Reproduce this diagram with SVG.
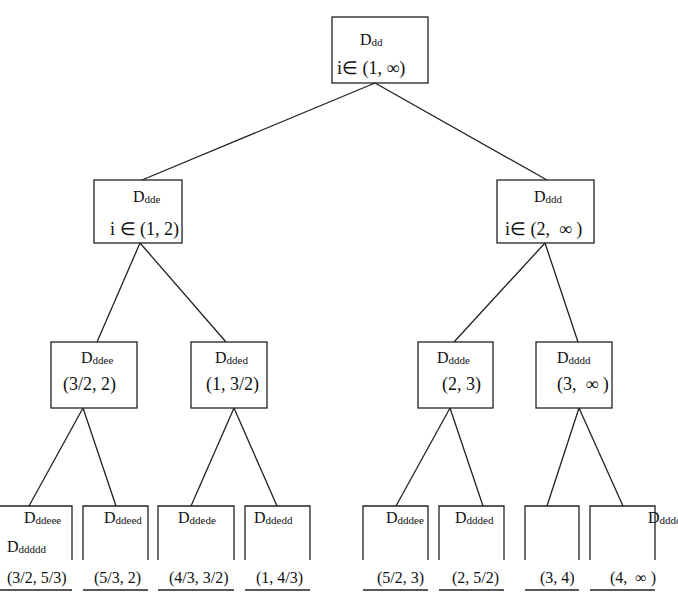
<svg xmlns="http://www.w3.org/2000/svg" width="678" height="600" viewBox="0 0 678 600">
<style>
text{font-family:"Liberation Serif","Times New Roman",serif;font-size:16px;fill:#111;white-space:pre}
.s{font-size:11px}
.m{font-size:18px}
.b{fill:none;stroke:#222;stroke-width:1.3}
.c line{stroke:#222;stroke-width:1.3}
</style>
<rect width="678" height="600" fill="#fff"/>
<g id="connectors" class="c">
<line x1="375" y1="83" x2="142" y2="180"/>
<line x1="375" y1="83" x2="547" y2="180"/>
<line x1="140" y1="243" x2="97" y2="342"/>
<line x1="140" y1="243" x2="226" y2="342"/>
<line x1="545" y1="243" x2="454" y2="342"/>
<line x1="545" y1="243" x2="578" y2="342"/>
<line x1="83" y1="408" x2="29" y2="506"/>
<line x1="83" y1="408" x2="116" y2="506"/>
<line x1="234" y1="408" x2="191" y2="506"/>
<line x1="234" y1="408" x2="277" y2="506"/>
<line x1="450" y1="408" x2="396" y2="506"/>
<line x1="450" y1="408" x2="483" y2="506"/>
<line x1="579" y1="408" x2="547" y2="506"/>
<line x1="579" y1="408" x2="623" y2="506"/>
</g>
<g id="n_dd">
<rect class="b" x="332" y="17" width="96" height="66"/>
<text x="360" y="45">D<tspan class="s" dy="1">dd</tspan></text>
<text class="m" x="337" y="74">i∈ (1, ∞)</text>
</g>
<g id="n_dde">
<rect class="b" x="94" y="180" width="88" height="63"/>
<text x="133" y="202">D<tspan class="s" dy="1">dde</tspan></text>
<text class="m" x="110" y="235">i ∈ (1, 2)</text>
</g>
<g id="n_ddd">
<rect class="b" x="497" y="180" width="97" height="63"/>
<text x="534" y="202">D<tspan class="s" dy="1">ddd</tspan></text>
<text class="m" x="505" y="235">i∈ (2,  ∞ )</text>
</g>
<g id="n_ddee">
<rect class="b" x="51" y="342" width="86" height="66"/>
<text x="81" y="363">D<tspan class="s" dy="1">ddee</tspan></text>
<text class="m" x="63" y="390">(3/2, 2)</text>
</g>
<g id="n_dded">
<rect class="b" x="191" y="342" width="76" height="66"/>
<text x="215" y="363">D<tspan class="s" dy="1">dded</tspan></text>
<text class="m" x="206" y="390">(1, 3/2)</text>
</g>
<g id="n_ddde">
<rect class="b" x="418" y="342" width="75" height="66"/>
<text x="437" y="363">D<tspan class="s" dy="1">ddde</tspan></text>
<text class="m" x="442" y="390">(2, 3)</text>
</g>
<g id="n_dddd">
<rect class="b" x="536" y="342" width="76" height="66"/>
<text x="557" y="363">D<tspan class="s" dy="1">dddd</tspan></text>
<text class="m" x="557" y="390">(3,  ∞ )</text>
</g>
<g id="n_ddeee">
<path class="b" d="M-2,506 H72 V560 M0,590 H72"/>
<text x="24" y="523">D<tspan class="s" dy="1">ddeee</tspan></text>
<text x="7" y="552">D<tspan class="s" dy="1">ddddd</tspan></text>
<text x="7" y="583">(3/2, 5/3)</text>
</g>
<g id="n_ddeed">
<path class="b" d="M83,560 V506 H148 V560 M83,590 H148"/>
<text x="104" y="523">D<tspan class="s" dy="1">ddeed</tspan></text>
<text x="94" y="583">(5/3, 2)</text>
</g>
<g id="n_ddede">
<path class="b" d="M158,560 V506 H234 V560 M158,590 H234"/>
<text x="178" y="523">D<tspan class="s" dy="1">ddede</tspan></text>
<text x="169" y="583">(4/3, 3/2)</text>
</g>
<g id="n_ddedd">
<path class="b" d="M245,560 V506 H310 V560 M245,590 H310"/>
<text x="254" y="523">D<tspan class="s" dy="1">ddedd</tspan></text>
<text x="256" y="583">(1, 4/3)</text>
</g>
<g id="n_dddee">
<path class="b" d="M363,560 V506 H428 V560 M363,590 H428"/>
<text x="386" y="523">D<tspan class="s" dy="1">dddee</tspan></text>
<text x="377" y="583">(5/2, 3)</text>
</g>
<g id="n_ddded">
<path class="b" d="M439,560 V506 H504 V560 M439,590 H504"/>
<text x="455" y="523">D<tspan class="s" dy="1">ddded</tspan></text>
<text x="452" y="583">(2, 5/2)</text>
</g>
<g id="n_box7">
<path class="b" d="M525,560 V506 H579 V560 M525,590 H579"/>
<text x="540" y="583">(3, 4)</text>
</g>
<g id="n_box8">
<path class="b" d="M590,560 V506 H655 V560 M590,590 H655"/>
<text x="648" y="523">D<tspan class="s" dy="1">ddddd</tspan></text>
<text x="610" y="583">(4,  ∞ )</text>
</g>
</svg>
